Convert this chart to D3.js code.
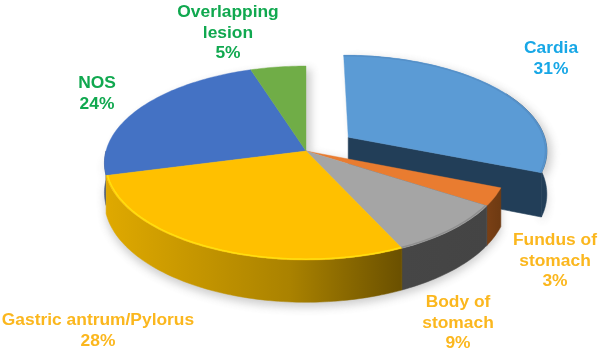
<!DOCTYPE html>
<html><head><meta charset="utf-8">
<script src="https://cdn.jsdelivr.net/npm/d3@7"></script>
<style>html,body{margin:0;padding:0;background:#fff}svg{display:block}
text{font-family:"Liberation Sans",Arial,sans-serif;font-weight:700;font-size:17.4px;text-anchor:middle}</style>
</head><body><div id="c"></div>
<script>
const categories=["Cardia","Fundus of stomach","Body of stomach","Gastric antrum/Pylorus","NOS","Overlapping lesion"];
const values=[31,3,9,28,24,5];
const topColors=["#5b9bd5","#e97c30","#a5a5a5","#ffc000","#4472c4","#70ad47"];
const sideStops=[["#223e58","#223e58"],["#7a4015","#6e3a12"],["#464646","#444444"],["#dfa900","#aa8200","#6a5000"],["#46597f","#46597f"],["#47702c","#47702c"]];
const rimColors=["#5590c8",null,"#8f8f8f","#ffdf10",null,null];
const explode=[0.26,0,0,0,0,0];
const sliceDepth=[43,37,37,37,29,37];
const labelLines=[["Cardia","31%"],["Fundus of","stomach","3%"],["Body of","stomach","9%"],["Gastric antrum/Pylorus","28%"],["NOS","24%"],["Overlapping","lesion","5%"]];
const labelColors=["#17a7e6","#fbb71e","#fbb71e","#fbb71e","#10a84f","#10a84f"];
const labelX=[551,555,458,98,97,228];
const labelY=[53,245,307,325,88,17];

const W=600,H=351,k=0.124;
const svg=d3.select("#c").append("svg").attr("width",W).attr("height",H);
const sx=d3.scaleLinear().domain([-1,1]).range([106,506]);
const sy=d3.scaleLinear().domain([-1,1]).range([55.5,246.5]);
const pie=d3.pie().sort(null).value(d=>d).startAngle(0).endAngle(2*Math.PI);
const arcs=pie(values);
function proj(u,v,d){const p=1/(1-k*v);return [sx(u*p),sy(v*p)+d*p];}
function P(a,th,t,low){const e=explode[a.index],m=(a.startAngle+a.endAngle)/2;
  return proj(e*Math.sin(m)+t*Math.sin(th),-e*Math.cos(m)-t*Math.cos(th),low?sliceDepth[a.index]:0);}
function rimAngles(s,e){const n=Math.max(4,Math.ceil((e-s)/0.02));return d3.range(n+1).map(i=>s+(e-s)*i/n);}
const line=d3.line();
function topPath(a){return line([P(a,0,0,false)].concat(rimAngles(a.startAngle,a.endAngle).map(t=>P(a,t,1,false))))+"Z";}
function rimSide(a,s0,s1){const r=rimAngles(s0,s1);
  return line(r.map(t=>P(a,t,1,false)).concat(r.slice().reverse().map(t=>P(a,t,1,true))))+"Z";}
function wall(a,th){return line([P(a,th,0,false),P(a,th,1,false),P(a,th,1,true),P(a,th,0,true)])+"Z";}

const defs=svg.append("defs");
defs.append("filter").attr("id","sh").attr("x","-20%").attr("y","-20%").attr("width","140%").attr("height","140%")
  .append("feGaussianBlur").attr("stdDeviation",4.5);
defs.append("filter").attr("id","sm").attr("x","-5%").attr("y","-5%").attr("width","110%").attr("height","110%")
  .append("feGaussianBlur").attr("stdDeviation",0.7);
arcs.forEach((a,i)=>{
  const p0=P(a,a.startAngle,1,false)[0],p1=P(a,a.endAngle,1,false)[0];
  const g=defs.append("linearGradient").attr("id","g"+i).attr("gradientUnits","userSpaceOnUse")
    .attr("x1",Math.min(p0,p1)).attr("x2",Math.max(p0,p1)).attr("y1",0).attr("y2",0);
  const st=sideStops[i];
  st.forEach((c,j)=>g.append("stop").attr("offset",st.length===3?[0,0.62,1][j]:j).attr("stop-color",c));
});
const FRONT_R=3*Math.PI/2;
const shadow=svg.append("g").attr("filter","url(#sh)").attr("opacity",0.32).attr("fill","#666");
arcs.forEach(a=>{
  shadow.append("path").attr("d",topPath(a)).attr("transform","translate(5,3)");
  const s0=Math.max(a.startAngle,Math.PI/2),s1=Math.min(a.endAngle,FRONT_R);
  if(s1>s0)shadow.append("path").attr("d",rimSide(a,s0,s1)).attr("transform","translate(0,5)");
});
const main=svg.append("g");
const order=[0,4,5,1,2,3];
order.forEach(i=>{const a=arcs[i];
  const g=main.append("g");
  const from=i===0?Math.PI/3:a.startAngle,to=Math.min(a.endAngle,FRONT_R);
  if(to>from)g.append("path").attr("d",rimSide(a,from,to)).attr("fill",`url(#g${i})`).attr("stroke",`url(#g${i})`).attr("stroke-width",0.5);
  if(explode[i]>0) g.append("path").attr("d",wall(a,a.endAngle)).attr("fill",sideStops[i][0]).attr("stroke",sideStops[i][0]).attr("stroke-width",0.6);
  g.append("path").attr("d",topPath(a)).attr("fill",topColors[i]).attr("stroke",topColors[i]).attr("stroke-width",0.4);
  if(rimColors[i]){
    const r=rimAngles(a.startAngle,a.endAngle).map(t=>P(a,t,0.993,false));
    g.append("path").attr("d",line(r)).attr("fill","none").attr("stroke",rimColors[i]).attr("stroke-width",1.5).attr("filter","url(#sm)");
  }
});
const lab=svg.append("g");
labelLines.forEach((ls,i)=>{
  const t=lab.append("text").attr("x",labelX[i]).attr("y",labelY[i]).attr("fill",labelColors[i]);
  ls.forEach((s,j)=>t.append("tspan").attr("x",labelX[i]).attr("dy",j?20.7:0).text(s));
});
</script></body></html>
